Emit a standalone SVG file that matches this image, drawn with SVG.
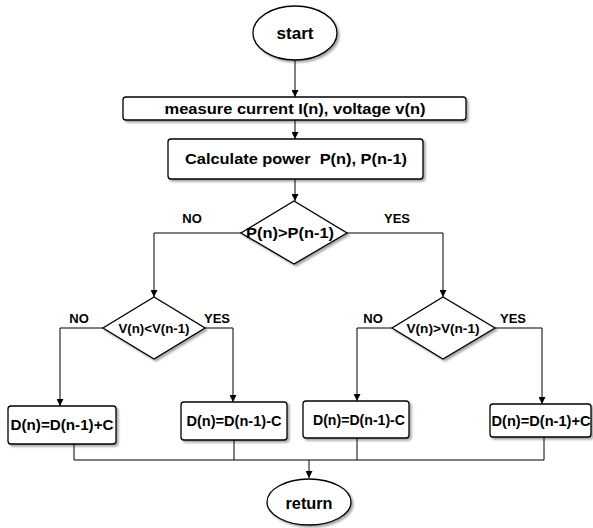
<svg xmlns="http://www.w3.org/2000/svg" width="593" height="528" viewBox="0 0 593 528">
<style>
.s{fill:#fff;stroke:#000;stroke-width:1.3;filter:url(#sh)}
.t{font-family:"Liberation Sans",Arial,sans-serif;font-weight:bold;font-size:14px;fill:#000;text-anchor:middle;dominant-baseline:central}
.big{font-size:17px}
.sm{font-size:13px}
.c{fill:none;stroke:#000;stroke-width:1}
</style>
<defs>
<filter id="sh" x="-10%" y="-10%" width="130%" height="140%">
<feDropShadow dx="2" dy="2" stdDeviation="1" flood-color="#000" flood-opacity="0.35"/>
</filter>
<marker id="a" viewBox="0 0 10 10" refX="10" refY="5" markerWidth="7" markerHeight="7" orient="auto" markerUnits="userSpaceOnUse">
<path d="M0,0 L10,5 L0,10 z" fill="#000"/>
</marker>
</defs>
<g id="connectors">
<path class="c" d="M295,60 V97" marker-end="url(#a)"/>
<path class="c" d="M295,120 V139" marker-end="url(#a)"/>
<path class="c" d="M295,179 V201" marker-end="url(#a)"/>
<path class="c" d="M241,233 H154 V297" marker-end="url(#a)"/>
<path class="c" d="M347,233 H443 V297" marker-end="url(#a)"/>
<path class="c" d="M103,328 H60 V406" marker-end="url(#a)"/>
<path class="c" d="M205,328 H233 V402" marker-end="url(#a)"/>
<path class="c" d="M392,328 H357 V401" marker-end="url(#a)"/>
<path class="c" d="M495,328 H542 V404" marker-end="url(#a)"/>
<path class="c" d="M74,444 V460 H544 V437"/>
<path class="c" d="M234,440 V460"/>
<path class="c" d="M357,438 V460"/>
<path class="c" d="M309,460 V478" marker-end="url(#a)"/>
</g>
<g id="start">
<ellipse class="s" cx="295" cy="33" rx="42" ry="27"/>
<text class="t big" x="295" y="33" textLength="37" lengthAdjust="spacingAndGlyphs">start</text>
</g>
<g id="measure">
<rect class="s" x="123" y="97" width="343" height="23" rx="3"/>
<text class="t" x="295" y="109" textLength="261" lengthAdjust="spacingAndGlyphs">measure current I(n), voltage v(n)</text>
</g>
<g id="calc">
<rect class="s" x="168" y="139" width="255" height="40" rx="3"/>
<text class="t" x="296" y="159" xml:space="preserve" textLength="222" lengthAdjust="spacingAndGlyphs">Calculate power  P(n), P(n-1)</text>
</g>
<g id="dp">
<path class="s" d="M294,201 L347,233 L294,264 L241,233 Z"/>
<text class="t" x="290" y="233" textLength="88" lengthAdjust="spacingAndGlyphs">P(n)&gt;P(n-1)</text>
<text class="t sm" x="192" y="218">NO</text>
<text class="t sm" x="397" y="218">YES</text>
</g>
<g id="dvl">
<path class="s" d="M154,297 L205,328 L154,359 L103,328 Z"/>
<text class="t sm" x="154" y="328" textLength="71" lengthAdjust="spacingAndGlyphs">V(n)&lt;V(n-1)</text>
<text class="t sm" x="79" y="318">NO</text>
<text class="t sm" x="217" y="318">YES</text>
</g>
<g id="dvr">
<path class="s" d="M443,297 L495,328 L443,359 L392,328 Z"/>
<text class="t sm" x="443" y="328" textLength="73" lengthAdjust="spacingAndGlyphs">V(n)&gt;V(n-1)</text>
<text class="t sm" x="373" y="318">NO</text>
<text class="t sm" x="513" y="318">YES</text>
</g>
<g id="b1">
<rect class="s" x="8" y="406" width="108" height="38" rx="3"/>
<text class="t" x="62" y="425" textLength="103" lengthAdjust="spacingAndGlyphs">D(n)=D(n-1)+C</text>
</g>
<g id="b2">
<rect class="s" x="181" y="402" width="106" height="38" rx="3"/>
<text class="t" x="234" y="421" textLength="95" lengthAdjust="spacingAndGlyphs">D(n)=D(n-1)-C</text>
</g>
<g id="b3">
<rect class="s" x="303" y="401" width="106" height="37" rx="3"/>
<text class="t" x="359" y="419.5" textLength="92" lengthAdjust="spacingAndGlyphs">D(n)=D(n-1)-C</text>
</g>
<g id="b4">
<rect class="s" x="490" y="404" width="101" height="33" rx="3"/>
<text class="t" x="541" y="420.5" textLength="99" lengthAdjust="spacingAndGlyphs">D(n)=D(n-1)+C</text>
</g>
<g id="return">
<ellipse class="s" cx="309" cy="502" rx="42" ry="23"/>
<text class="t big" x="309" y="503" textLength="47" lengthAdjust="spacingAndGlyphs">return</text>
</g>
</svg>
